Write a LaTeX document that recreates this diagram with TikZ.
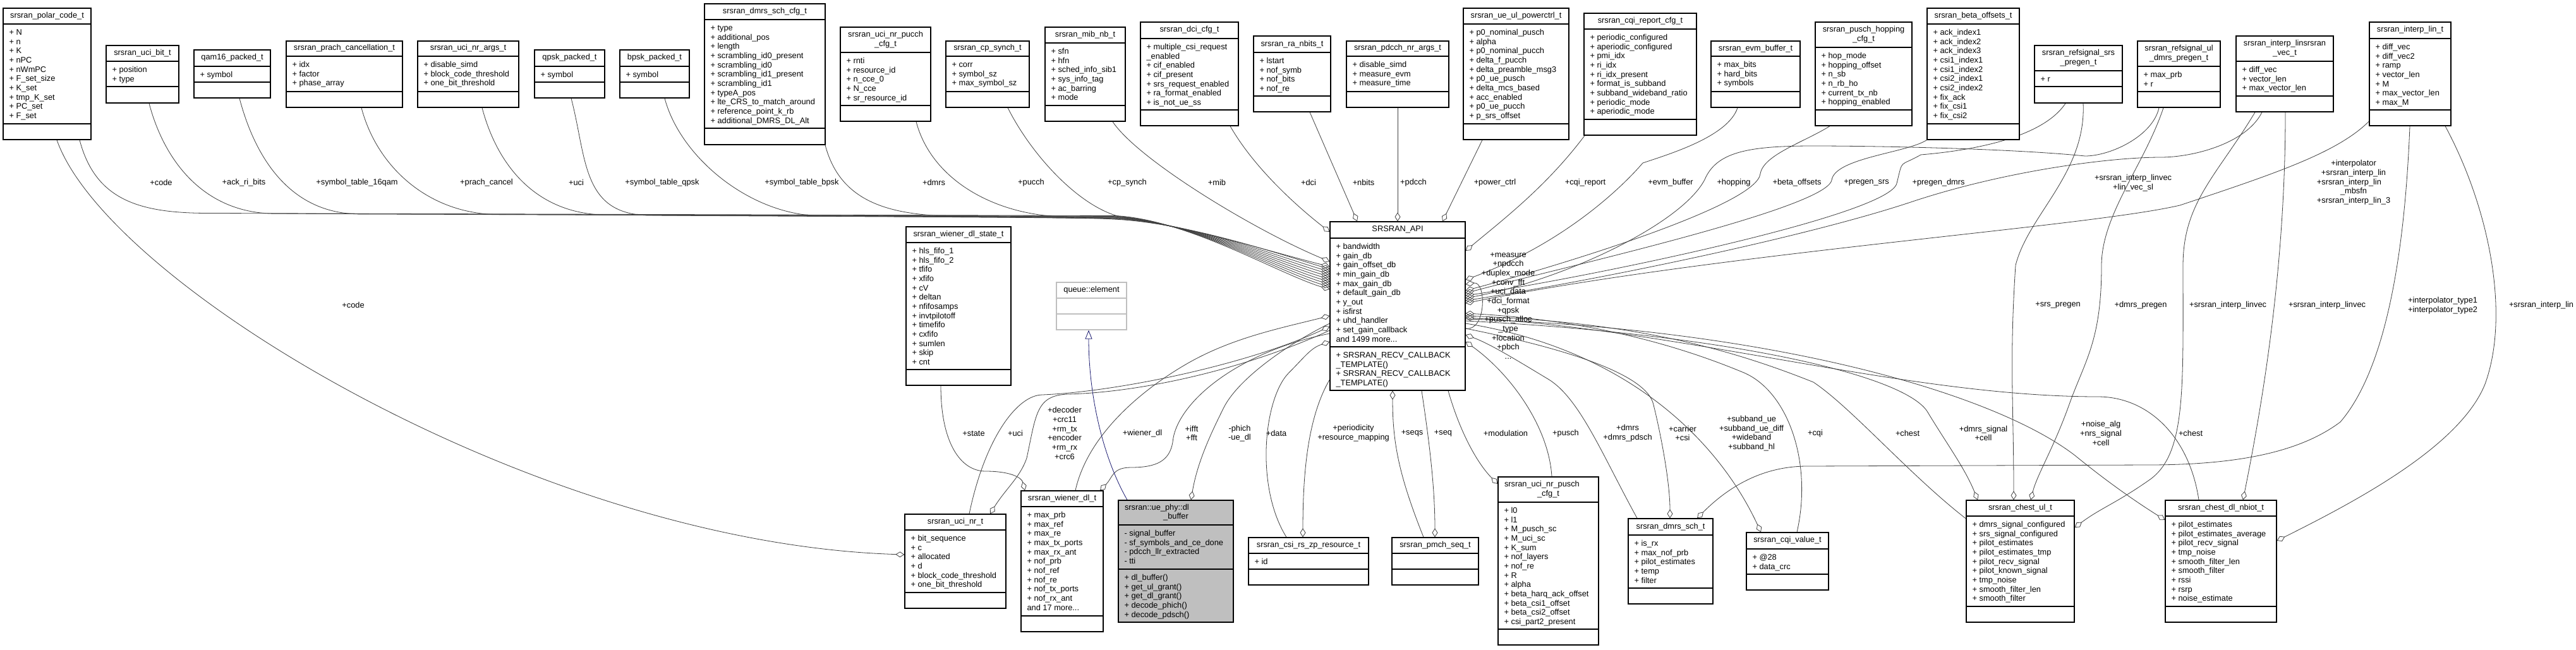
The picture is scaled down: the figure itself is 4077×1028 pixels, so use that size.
\documentclass[tikz,border=0pt]{standalone}
\usepackage{fontspec}
\setmainfont{Liberation Sans}
\usetikzlibrary{arrows.meta,fit,backgrounds}

\definecolor{edgegray}{HTML}{404040}
\definecolor{inhblue}{HTML}{191970}
\definecolor{focusgray}{HTML}{BFBFBF}

\tikzset{
  every node/.style={font=\fontsize{12.8}{14.67}\selectfont},
  classframe/.style={draw=black, fill=white, line width=1.3pt, inner sep=0pt},
  compart/.style={anchor=north west, align=left, inner sep=0pt, xshift=10pt, yshift=-6.9pt},
  agg/.style={draw=edgegray, line width=0.8pt, -{Diamond[open,length=14pt,width=9pt]}},
  aggself/.style={draw=edgegray, line width=0.8pt, {Diamond[open,length=14pt,width=9pt]}-},
  inherit/.style={draw=inhblue, line width=0.8pt, -{Triangle[open,length=14pt,width=11pt]}},
  lbl/.style={align=center, inner sep=0pt},
}

% class box: [style] name, corner, corner, title rule y, attribute rule y, title, attributes, operations
\newcommand{\umlclass}[9][]{%
  \node[classframe, #1, fit={(#3) (#4)}] (#2) {};
  \draw[line width=1.3pt, #1] (#2.west |- 0,#5) -- (#2.east |- 0,#5);
  \draw[line width=1.3pt, #1] (#2.west |- 0,#6) -- (#2.east |- 0,#6);
  \path (#2.north) -- (#2.north |- 0,#5) node[midway, align=center] (#2-title) {#7};
  \node[compart] (#2-attr) at (#2.west |- 0,#5) {\strut#8};
  \node[compart] (#2-ops) at (#2.west |- 0,#6) {\strut#9};
}

% member of a top row struct, bundled into the left side of SRSRAN_API
\newcommand{\feed}[5]{%
  \draw[agg] (#2,0 |- #1.south) .. controls +(25,95) and +(-110,0) .. (#3,#4)
    -- (1765,#4+4) .. controls +(115,6) and +(-80,-24) .. (api.west |- 0,#5);
}

\begin{document}
\catcode`\_=12
\begin{tikzpicture}[x=1pt,y=-1pt]
\useasboundingbox (0,0) rectangle (4077,1028);

% top row
\umlclass{polar}{5,13}{144,221}{38}{196}{srsran_polar_code_t}{+ N\\+ n\\+ K\\+ nPC\\+ nWmPC\\+ F_set_size\\+ K_set\\+ tmp_K_set\\+ PC_set\\+ F_set}{}
\umlclass{ucibit}{168,72}{283,163}{97}{137}{srsran_uci_bit_t}{+ position\\+ type}{}
\umlclass{qam}{307,79}{428,155}{105}{130}{qam16_packed_t}{+ symbol}{}
\umlclass{prach}{453,65}{637,170}{89}{145}{srsran_prach_cancellation_t}{+ idx\\+ factor\\+ phase_array}{}
\umlclass{nrargs}{661,65}{821,170}{89}{145}{srsran_uci_nr_args_t}{+ disable_simd\\+ block_code_threshold\\+ one_bit_threshold}{}
\umlclass{qpsk}{846,79}{957,155}{105}{130}{qpsk_packed_t}{+ symbol}{}
\umlclass{bpsk}{981,79}{1091,155}{105}{130}{bpsk_packed_t}{+ symbol}{}
\umlclass{dmrscfg}{1115,6}{1306,229}{31}{203}{srsran_dmrs_sch_cfg_t}{+ type\\+ additional_pos\\+ length\\+ scrambling_id0_present\\+ scrambling_id0\\+ scrambling_id1_present\\+ scrambling_id1\\+ typeA_pos\\+ lte_CRS_to_match_around\\+ reference_point_k_rb\\+ additional_DMRS_DL_Alt}{}
\umlclass{pucchcfg}{1330,43}{1473,192}{83}{167}{srsran_uci_nr_pucch\\_cfg_t}{+ rnti\\+ resource_id\\+ n_cce_0\\+ N_cce\\+ sr_resource_id}{}
\umlclass{cpsynch}{1497,65}{1629,170}{89}{145}{srsran_cp_synch_t}{+ corr\\+ symbol_sz\\+ max_symbol_sz}{}
\umlclass{mib}{1654,43}{1781,192}{68}{167}{srsran_mib_nb_t}{+ sfn\\+ hfn\\+ sched_info_sib1\\+ sys_info_tag\\+ ac_barring\\+ mode}{}
\umlclass{dcicfg}{1805,35}{1960,199}{61}{174}{srsran_dci_cfg_t}{+ multiple_csi_request\\_enabled\\+ cif_enabled\\+ cif_present\\+ srs_request_enabled\\+ ra_format_enabled\\+ is_not_ue_ss}{}
\umlclass{nbits}{1984,57}{2106,177}{83}{152}{srsran_ra_nbits_t}{+ lstart\\+ nof_symb\\+ nof_bits\\+ nof_re}{}
\umlclass{pdcchargs}{2131,65}{2293,170}{89}{145}{srsran_pdcch_nr_args_t}{+ disable_simd\\+ measure_evm\\+ measure_time}{}
\umlclass{powerctrl}{2316,13}{2483,221}{38}{196}{srsran_ue_ul_powerctrl_t}{+ p0_nominal_pusch\\+ alpha\\+ p0_nominal_pucch\\+ delta_f_pucch\\+ delta_preamble_msg3\\+ p0_ue_pusch\\+ delta_mcs_based\\+ acc_enabled\\+ p0_ue_pucch\\+ p_srs_offset}{}
\umlclass{cqicfg}{2507,21}{2685,214}{46}{189}{srsran_cqi_report_cfg_t}{+ periodic_configured\\+ aperiodic_configured\\+ pmi_idx\\+ ri_idx\\+ ri_idx_present\\+ format_is_subband\\+ subband_wideband_ratio\\+ periodic_mode\\+ aperiodic_mode}{}
\umlclass{evm}{2708,65}{2849,170}{89}{145}{srsran_evm_buffer_t}{+ max_bits\\+ hard_bits\\+ symbols}{}
\umlclass{hopping}{2873,35}{3026,199}{75}{174}{srsran_pusch_hopping\\_cfg_t}{+ hop_mode\\+ hopping_offset\\+ n_sb\\+ n_rb_ho\\+ current_tx_nb\\+ hopping_enabled}{}
\umlclass{beta}{3050,13}{3196,221}{38}{196}{srsran_beta_offsets_t}{+ ack_index1\\+ ack_index2\\+ ack_index3\\+ csi1_index1\\+ csi1_index2\\+ csi2_index1\\+ csi2_index2\\+ fix_ack\\+ fix_csi1\\+ fix_csi2}{}
\umlclass{srspregen}{3220,72}{3359,163}{112}{137}{srsran_refsignal_srs\\_pregen_t}{+ r}{}
\umlclass{uldmrs}{3383,65}{3514,170}{105}{145}{srsran_refsignal_ul\\_dmrs_pregen_t}{+ max_prb\\+ r}{}
\umlclass{linvec}{3539,57}{3693,177}{97}{152}{srsran_interp_linsrsran\\_vec_t}{+ diff_vec\\+ vector_len\\+ max_vector_len}{}
\umlclass{interplin}{3750,35}{3879,199}{61}{174}{srsran_interp_lin_t}{+ diff_vec\\+ diff_vec2\\+ ramp\\+ vector_len\\+ M\\+ max_vector_len\\+ max_M}{}

% middle and bottom
\umlclass{api}{2105,351}{2319,618}{377}{549}{SRSRAN_API}{+ bandwidth\\+ gain_db\\+ gain_offset_db\\+ min_gain_db\\+ max_gain_db\\+ default_gain_db\\+ y_out\\+ isfirst\\+ uhd_handler\\+ set_gain_callback\\and 1499 more...}{+ SRSRAN_RECV_CALLBACK\\_TEMPLATE()\\+ SRSRAN_RECV_CALLBACK\\_TEMPLATE()}
\umlclass{wstate}{1434,359}{1600,610}{384}{585}{srsran_wiener_dl_state_t}{+ hls_fifo_1\\+ hls_fifo_2\\+ tfifo\\+ xfifo\\+ cV\\+ deltan\\+ nfifosamps\\+ invtpilotoff\\+ timefifo\\+ cxfifo\\+ sumlen\\+ skip\\+ cnt}{}
\umlclass[draw=focusgray]{queue}{1672,447}{1783,522}{472}{497}{queue::element}{}{}
\umlclass{ucinr}{1432,814}{1592,963}{839}{938}{srsran_uci_nr_t}{+ bit_sequence\\+ c\\+ allocated\\+ d\\+ block_code_threshold\\+ one_bit_threshold}{}
\umlclass{wiener}{1616,777}{1746,1000}{802}{975}{srsran_wiener_dl_t}{+ max_prb\\+ max_ref\\+ max_re\\+ max_tx_ports\\+ max_rx_ant\\+ nof_prb\\+ nof_ref\\+ nof_re\\+ nof_tx_ports\\+ nof_rx_ant\\and 17 more...}{}
\umlclass[fill=focusgray]{dlbuf}{1770,792}{1952,985}{831}{901}{\makebox[162pt][l]{srsran::ue_phy::dl}\\_buffer}{- signal_buffer\\- sf_symbols_and_ce_done\\- pdcch_llr_extracted\\- tti}{+ dl_buffer()\\+ get_ul_grant()\\+ get_dl_grant()\\+ decode_phich()\\+ decode_pdsch()}
\umlclass{csizp}{1976,851}{2166,926}{876}{901}{srsran_csi_rs_zp_resource_t}{+ id}{}
\umlclass{pmch}{2203,851}{2340,926}{876}{901}{srsran_pmch_seq_t}{}{}
\umlclass{puschcfg}{2371,755}{2530,1021}{795}{996}{\makebox[139pt][l]{srsran_uci_nr_pusch}\\_cfg_t}{+ l0\\+ l1\\+ M_pusch_sc\\+ M_uci_sc\\+ K_sum\\+ nof_layers\\+ nof_re\\+ R\\+ alpha\\+ beta_harq_ack_offset\\+ beta_csi1_offset\\+ beta_csi2_offset\\+ csi_part2_present}{}
\umlclass{dmrssch}{2577,821}{2711,956}{847}{931}{srsran_dmrs_sch_t}{+ is_rx\\+ max_nof_prb\\+ pilot_estimates\\+ temp\\+ filter}{}
\umlclass{cqival}{2764,843}{2894,934}{869}{909}{srsran_cqi_value_t}{+ @28\\+ data_crc}{}
\umlclass{chestul}{3112,792}{3283,985}{817}{960}{srsran_chest_ul_t}{+ dmrs_signal_configured\\+ srs_signal_configured\\+ pilot_estimates\\+ pilot_estimates_tmp\\+ pilot_recv_signal\\+ pilot_known_signal\\+ tmp_noise\\+ smooth_filter_len\\+ smooth_filter}{}
\umlclass{nbiot}{3427,792}{3603,985}{817}{960}{srsran_chest_dl_nbiot_t}{+ pilot_estimates\\+ pilot_estimates_average\\+ pilot_recv_signal\\+ tmp_noise\\+ smooth_filter_len\\+ smooth_filter\\+ rssi\\+ rsrp\\+ noise_estimate}{}

\begin{scope}[on background layer]
  \fill[white] (0,0) rectangle (4077,1028);
  % top row into SRSRAN_API
  \feed{polar}{126}{330}{337.5}{458}
  \feed{ucibit}{236}{436}{338.2}{454}
  \feed{qam}{379}{570}{338.9}{450}
  \feed{prach}{572}{790}{339.6}{446}
  \feed{nrargs}{763}{962}{340.3}{442}
  \feed{qpsk}{904}{1030}{341}{438}
  \feed{bpsk}{1052}{1300}{341.7}{434}
  \feed{dmrscfg}{1306}{1525}{342.4}{430}
  \feed{pucchcfg}{1450}{1690}{343.1}{426}
  \draw[agg] (1595,0 |- cpsynch.south) .. controls +(40,80) and +(-70,-5) .. (1790,346) .. controls +(100,15) and +(-80,-20) .. (api.west |- 0,422);
  \draw[agg] (1761,0 |- mib.south) .. controls +(40,60) and +(-120,-50) .. (api.west |- 0,414);
  \draw[agg] (1947,0 |- dcicfg.south) .. controls +(40,70) and +(-45,-35) .. (api.west |- 0,367);
  \draw[agg] (2073,0 |- nbits.south) -- (2148,0 |- api.north);
  \draw[agg] (2212,0 |- pdcchargs.south) -- (2212,0 |- api.north);
  \draw[agg] (2346,0 |- powerctrl.south) -- (2283,0 |- api.north);
  \draw[agg] (2508,0 |- cqicfg.south) .. controls +(-60,80) and +(60,-50) .. (api.east |- 0,397);
  \draw[agg] (2750,0 |- evm.south) .. controls +(-15,45) and +(45,-15) .. (2600,258) .. controls +(-30,35) and +(160,-60) .. (api.east |- 0,443);
  \draw[agg] (2896,0 |- hopping.south) .. controls +(-40,25) and +(5,-30) .. (2786,275) .. controls +(-5,50) and +(150,-40) .. (api.east |- 0,460);
  \draw[agg] (beta.south west) .. controls +(-30,20) and +(5,-35) .. (2899,285) .. controls +(-8,45) and +(150,-40) .. (api.east |- 0,464);
  \draw[agg] (3269,0 |- srspregen.south) .. controls +(-40,60) and +(60,-5) .. (3040,245) .. controls +(-35,20) and +(10,-40) .. (3002,290) .. controls +(-10,50) and +(200,-30) .. (api.east |- 0,468);
  \draw[agg] (3417,0 |- uldmrs.south) .. controls +(-10,45) and +(40,0) .. (3300,247) .. controls +(-120,-12) and +(100,0) .. (2870,231) .. controls +(-100,0) and +(20,-40) .. (2700,280) .. controls +(-30,70) and +(160,-30) .. (api.east |- 0,472);
  \draw[agg] (3580,0 |- linvec.south) .. controls +(-25,50) and +(50,0) .. (3420,249) .. controls +(-80,0) and +(150,-50) .. (3024,320) .. controls +(-150,50) and +(250,-40) .. (api.east |- 0,476);
  \draw[agg] (interplin.west |- 0,192) .. controls +(-50,50) and +(150,-50) .. (3450,325) .. controls +(-150,35) and +(400,-80) .. (api.east |- 0,480);
  \draw[aggself] (api.east |- 0,450) .. controls +(33,-5) and +(33,5) .. (api.east |- 0,520);
  % lower left
  \draw[agg] (90,0 |- polar.south) .. controls (170,450) and (850,860) .. (ucinr.west |- 0,878);
  \draw[agg] (1489,0 |- wstate.south) .. controls +(0,90) and +(-40,0) .. (1560,746) .. controls +(40,0) and +(-5,-20) .. (1622,0 |- wiener.north);
  \draw[agg] (1534,0 |- ucinr.north) .. controls +(25,-120) and +(-40,0) .. (1650,625) .. controls +(120,-5) and +(-130,60) .. (api.west |- 0,517);
  \draw[agg] (api.west |- 0,523) .. controls +(-130,60) and +(120,-3) .. (1690,624) .. controls +(-50,2) and +(15,-70) .. (1625,725) .. controls +(-10,30) and +(25,-40) .. (1567,0 |- ucinr.north);
  \draw[agg] (1702,0 |- wiener.north) .. controls +(20,-90) and +(-70,40) .. (1880,575) .. controls +(70,-40) and +(-80,20) .. (api.west |- 0,500);
  \draw[agg] (api.west |- 0,528) .. controls +(-150,30) and +(5,-60) .. (1856,700) .. controls +(-5,30) and +(40,0) .. (1790,740) .. controls +(-30,0) and +(20,-20) .. (1741,0 |- wiener.north);
  \draw[agg] (api.west |- 0,512) .. controls +(-80,40) and +(20,-40) .. (1937,645) .. controls +(-20,40) and +(10,-60) .. (1885,0 |- dlbuf.north);
  \draw[agg] (2036,0 |- csizp.north) .. controls +(-50,-80) and +(-40,40) .. (2040,590) .. controls +(25,-25) and +(-30,10) .. (api.west |- 0,541);
  \draw[agg] (api.west |- 0,601) .. controls +(-35,60) and +(0,-100) .. (2062,0 |- csizp.north);
  \draw[inherit] (1784,0 |- dlbuf.north) .. controls +(-40,-70) and +(0,100) .. (1723,0 |- queue.south);
  % lower middle and right
  \draw[agg] (2253,0 |- pmch.north) .. controls +(-40,-100) and +(0,80) .. (2204,0 |- api.south);
  \draw[agg] (2250,0 |- api.south) .. controls +(12,80) and +(0,-80) .. (2271,0 |- pmch.north);
  \draw[agg] (2292,0 |- api.south) .. controls +(20,70) and +(-30,-30) .. (puschcfg.west |- 0,766);
  \draw[agg] (2456,0 |- puschcfg.north) .. controls +(-5,-80) and +(70,50) .. (api.east |- 0,541);
  \draw[agg] (2591,0 |- dmrssch.north) .. controls +(-55,-100) and +(50,30) .. (2450,600) .. controls +(-50,-30) and +(40,15) .. (api.east |- 0,530);
  \draw[agg] (api.east |- 0,520) .. controls +(150,30) and +(-10,-50) .. (2617,641) .. controls +(10,40) and +(0,-60) .. (2643,0 |- dmrssch.north);
  \draw[agg] (3814,0 |- interplin.south) .. controls +(-10,250) and +(60,-70) .. (3704,668) .. controls +(-60,45) and +(150,0) .. (3400,736) -- (2860,738) .. controls +(-80,0) and +(40,-40) .. (2686,0 |- dmrssch.north);
  \draw[agg] (api.east |- 0,512) .. controls +(250,40) and +(-70,-150) .. (2787,0 |- cqival.north);
  \draw[agg] (2844,0 |- cqival.north) .. controls +(25,-110) and +(70,30) .. (2760,590) .. controls +(-120,-50) and +(180,10) .. (api.east |- 0,496);
  \draw[agg] (chestul.west |- 0,821) .. controls +(-90,-70) and +(60,40) .. (2870,605) .. controls +(-150,-60) and +(250,10) .. (api.east |- 0,500);
  \draw[agg] (api.east |- 0,508) .. controls +(400,20) and +(-40,-60) .. (3050,651) .. controls +(30,50) and +(-20,-50) .. (3130,0 |- chestul.north);
  \draw[agg] (api.east |- 0,505) .. controls +(480,15) and +(-130,-100) .. (3284,721) .. controls +(55,45) and +(-40,-25) .. (nbiot.west |- 0,823);
  \draw[agg] (3480,0 |- nbiot.north) .. controls +(-15,-100) and +(80,0) .. (3320,628) .. controls +(-300,0) and +(350,20) .. (api.east |- 0,503);
  \draw[agg] (3297,0 |- srspregen.south) .. controls +(5,110) and +(20,-80) .. (3190,420) .. controls +(-10,150) and +(0,-150) .. (3187,0 |- chestul.north);
  \draw[agg] (3424,0 |- uldmrs.south) .. controls +(-30,90) and +(0,-80) .. (3326,420) .. controls +(0,120) and +(25,-70) .. (3275,640) .. controls +(-25,70) and +(10,-40) .. (3214,0 |- chestul.north);
  \draw[agg] (3569,0 |- linvec.south) .. controls +(-60,100) and +(0,-100) .. (3455,420) .. controls +(0,200) and +(60,-40) .. (3400,761) .. controls +(-50,35) and +(40,-30) .. (chestul.east |- 0,835);
  \draw[agg] (3617,0 |- linvec.south) .. controls +(0,250) and +(30,-150) .. (3550,0 |- nbiot.north);
  \draw[agg] (3870,0 |- interplin.south) .. controls +(70,130) and +(40,-110) .. (3933,608) .. controls +(-40,100) and +(120,-60) .. (nbiot.east |- 0,856);
\end{scope}

% edge labels
\node[lbl] (l-code) at (255,289) {+code};
\node[lbl] (l-ackri) at (386,289) {+ack_ri_bits};
\node[lbl] (l-qam) at (565,289) {+symbol_table_16qam};
\node[lbl] (l-prach) at (770,289) {+prach_cancel};
\node[lbl] (l-uci) at (912,289) {+uci};
\node[lbl] (l-qpsk) at (1048,289) {+symbol_table_qpsk};
\node[lbl] (l-bpsk) at (1269,289) {+symbol_table_bpsk};
\node[lbl] (l-dmrs) at (1478,289) {+dmrs};
\node[lbl] (l-pucch) at (1632,289) {+pucch};
\node[lbl] (l-cpsynch) at (1784,289) {+cp_synch};
\node[lbl] (l-mib) at (1926,289) {+mib};
\node[lbl] (l-dci) at (2071,289) {+dci};
\node[lbl] (l-nbits) at (2158,289) {+nbits};
\node[lbl] (l-pdcch) at (2237,289) {+pdcch};
\node[lbl] (l-power) at (2366,289) {+power_ctrl};
\node[lbl] (l-cqirep) at (2509,289) {+cqi_report};
\node[lbl] (l-evm) at (2644,289) {+evm_buffer};
\node[lbl] (l-hopping) at (2744,289) {+hopping};
\node[lbl] (l-beta) at (2844,289) {+beta_offsets};
\node[lbl] (l-pregensrs) at (2954,289) {+pregen_srs};
\node[lbl] (l-pregendmrs) at (3068,289) {+pregen_dmrs};
\node[lbl] (l-linvec) at (3376,289.5) {+srsran_interp_linvec\\+lin_vec_sl};
\node[lbl] (l-interp) at (3725,289) {+interpolator\\+srsran_interp_lin\\\rlap{+srsran_interp_lin}\phantom{+srsran_interp_lin_3}\\_mbsfn\\+srsran_interp_lin_3};
\node[lbl] (l-code2) at (559,483) {+code};
\node[lbl] (l-self) at (2387,484) {+measure\\+npdcch\\+duplex_mode\\+conv_fft\\+uci_data\\+dci_format\\+qpsk\\+pusch_alloc\\_type\\+location\\+pbch\\...};
\node[lbl] (l-srspregen) at (3257,483) {+srs_pregen};
\node[lbl] (l-dmrspregen) at (3388,483) {+dmrs_pregen};
\node[lbl] (l-linvec2) at (3526,483) {+srsran_interp_linvec};
\node[lbl] (l-linvec3) at (3683,483) {+srsran_interp_linvec};
\node[lbl] (l-type) at (3866,484) {+interpolator_type1\\+interpolator_type2};
\node[lbl] (l-lin) at (4022,483) {+srsran_interp_lin};
\node[lbl] (l-state) at (1541,686) {+state};
\node[lbl] (l-uci2) at (1607,686) {+uci};
\node[lbl] (l-decoder) at (1685,686) {+decoder\\+crc11\\+rm_tx\\+encoder\\+rm_rx\\+crc6};
\node[lbl] (l-wiener) at (1808,686) {+wiener_dl};
\node[lbl] (l-ifft) at (1886,686) {+ifft\\+fft};
\node[lbl] (l-phich) at (1962,686) {-phich\\-ue_dl};
\node[lbl] (l-data) at (2020,686) {+data};
\node[lbl] (l-period) at (2142,686) {+periodicity\\+resource_mapping};
\node[lbl] (l-seqs) at (2235,686) {+seqs};
\node[lbl] (l-seq) at (2284,686) {+seq};
\node[lbl] (l-mod) at (2383,686) {+modulation};
\node[lbl] (l-pusch) at (2478,686) {+pusch};
\node[lbl] (l-dmrs2) at (2576,686) {+dmrs\\+dmrs_pdsch};
\node[lbl] (l-carrier) at (2663,686) {+carrier\\+csi};
\node[lbl] (l-subband) at (2772,686) {+subband_ue\\+subband_ue_diff\\+wideband\\+subband_hl};
\node[lbl] (l-cqi) at (2873,686) {+cqi};
\node[lbl] (l-chest) at (3019,686) {+chest};
\node[lbl] (l-dmrssig) at (3139,686) {+dmrs_signal\\+cell};
\node[lbl] (l-noise) at (3325,686) {+noise_alg\\+nrs_signal\\+cell};
\node[lbl] (l-chest2) at (3467,686) {+chest};
\end{tikzpicture}
\end{document}
